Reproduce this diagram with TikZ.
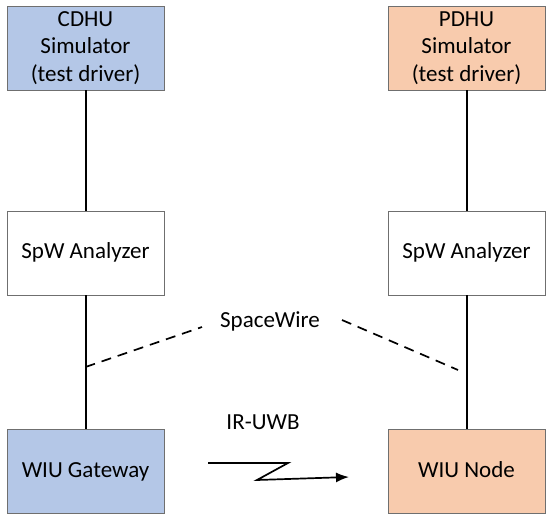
\documentclass[tikz,border=0pt]{standalone}
\usepackage{fontspec}
\setmainfont{Carlito}
\usetikzlibrary{arrows.meta}
\definecolor{boxblue}{HTML}{B4C7E7}
\definecolor{boxorange}{HTML}{F8CBAD}
\definecolor{boxedge}{HTML}{6F6F6F}
\begin{document}
\begin{tikzpicture}[x=1pt,y=-1pt,
  blk/.style={draw=boxedge,line width=0.9pt,minimum width=157pt,minimum height=84pt,
    align=center,inner sep=0pt,font=\fontsize{23}{27.5}\selectfont},
  one/.style={text height=16pt,text depth=5pt},
  conn/.style={line width=2pt,black},
  swire/.style={line width=1.7pt,black,dash pattern=on 10pt off 7pt},
  lbl/.style={font=\fontsize{23}{27.5}\selectfont,inner sep=0pt}]
\useasboundingbox (0,0) rectangle (550,520);
\node[blk,fill=boxblue] (cdhu) at (85.5,48) {CDHU\\Simulator\\(test driver)};
\node[blk,fill=boxorange] (pdhu) at (466.5,48) {PDHU\\Simulator\\(test driver)};
\node[blk,fill=white,one] (spwL) at (85.5,253) {SpW Analyzer};
\node[blk,fill=white,one] (spwR) at (466.5,253) {SpW Analyzer};
\node[blk,fill=boxblue,one] (gw) at (85.5,471.5) {WIU Gateway};
\node[blk,fill=boxorange,one] (nd) at (466.5,471.5) {WIU Node};
\draw[conn] (cdhu.south) -- (spwL.north);
\draw[conn] (pdhu.south) -- (spwR.north);
\draw[conn] (spwL.south) -- (gw.north);
\draw[conn] (spwR.south) -- (nd.north);
\node[lbl] (sw) at (270,321) {SpaceWire};
\coordinate (dl1) at (85.5,367);
\coordinate (dl2) at (202,327);
\coordinate (dr1) at (342,320);
\coordinate (dr2) at (458,370);
\draw[swire] (dl1) -- (dl2);
\draw[swire] (dr1) -- (dr2);
\node[lbl] (ir) at (263,422) {IR-UWB};
\coordinate (z1) at (208,463);
\coordinate (z2) at (288,463);
\coordinate (z3) at (257,480);
\coordinate (z4) at (349,477);
\draw[line width=1.7pt,black,-{Latex[length=13pt,width=10pt]}] (z1) -- (z2) -- (z3) -- (z4);
\end{tikzpicture}
\end{document}
